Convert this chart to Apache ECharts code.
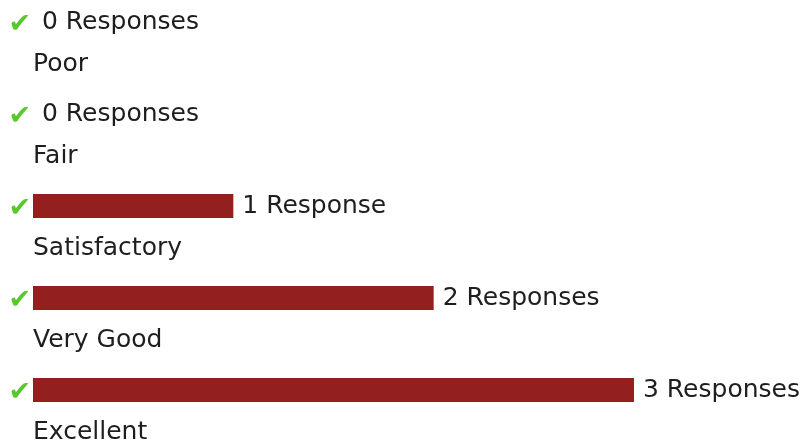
<!DOCTYPE html>
<html>
<head>
<meta charset="utf-8">
<script src="https://cdn.jsdelivr.net/npm/echarts@6/dist/echarts.min.js"></script>
<style>
  html, body { margin: 0; padding: 0; background: #fff; }
  #main { width: 807px; height: 445px; }
</style>
</head>
<body>
<div id="main"></div>
<script>
  // 评分选项与回答数
  var ratings = ['Poor', 'Fair', 'Satisfactory', 'Very Good', 'Excellent'];
  var responses = [0, 0, 1, 2, 3];

  var myChart = echarts.init(document.getElementById('main'));

  var txtFont = 'Verdana, "DejaVu Sans", sans-serif';

  var option = {
    animation: false,
    grid: {
      left: 33,
      right: 173,
      top: 22,
      bottom: 55,
      containLabel: false,
      outerBoundsMode: 'none'
    },
    xAxis: {
      type: 'value',
      min: 0,
      max: 3,
      show: false
    },
    yAxis: [
      {
        // 左边的绿色勾
        type: 'category',
        inverse: true,
        boundaryGap: false,
        data: ratings,
        axisLine: {show: false},
        axisTick: {show: false},
        axisLabel: {
          interval: 0,
          margin: 2,
          verticalAlign: 'top',
          lineHeight: 6,
          formatter: function () { return '✔'; },
          color: '#58c82d',
          fontSize: 27,
          fontFamily: txtFont
        }
      },
      {
        // 条形下方的选项名称
        type: 'category',
        inverse: true,
        boundaryGap: false,
        position: 'left',
        data: ratings,
        axisLine: {show: false},
        axisTick: {show: false},
        axisLabel: {
          interval: 0,
          inside: true,
          margin: 0,
          verticalAlign: 'middle',
          lineHeight: 84,
          formatter: function (v) { return '\n' + v; },
          color: '#1e1e1e',
          fontSize: 25,
          fontFamily: txtFont
        }
      }
    ],
    series: [
      {
        name: 'Responses',
        type: 'bar',
        yAxisIndex: 0,
        data: responses,
        barWidth: 24,
        itemStyle: {
          color: '#931f1f'
        },
        label: {
          show: true,
          position: 'right',
          distance: 9,
          color: '#1e1e1e',
          fontSize: 25,
          fontFamily: txtFont,
          formatter: function (p) {
            return p.value + (p.value === 1 ? ' Response' : ' Responses');
          }
        }
      }
    ]
  };

  myChart.setOption(option);
</script>
</body>
</html>
